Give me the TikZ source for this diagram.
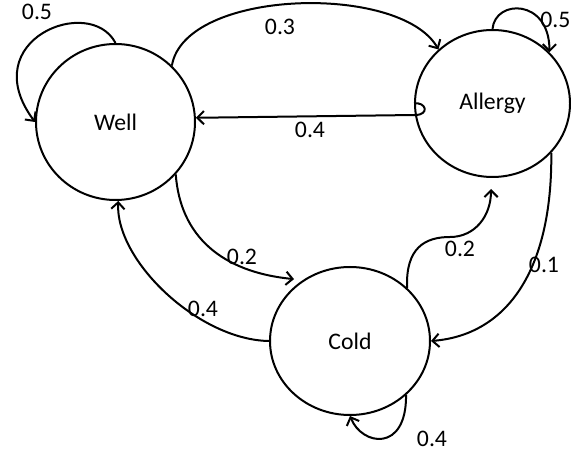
\documentclass[tikz,border=0pt]{standalone}
\usepackage{fontspec}
\setmainfont{Carlito}
\usetikzlibrary{shapes.geometric,arrows.meta}
\begin{document}
\begin{tikzpicture}[x=0.75pt,y=-0.75pt,
  state/.style={ellipse, draw, line width=1.5pt, inner sep=0pt, font=\fontsize{17.8}{20}\selectfont},
  edge/.style={line width=1.5pt, -{Straight Barb[length=5pt,width=10pt]}},
  lbl/.style={font=\fontsize{17.8}{20}\selectfont, inner sep=0pt}]
\useasboundingbox (0,0) rectangle (571,452);
\node[state, minimum width=119.25pt, minimum height=117pt] (well) at (115.5,122) {Well};
\node[state, minimum width=116.25pt, minimum height=110.25pt] (allergy) at (492.5,103.5) {Allergy};
\node[state, minimum width=120pt, minimum height=111pt] (cold) at (350,341) {Cold};
% self loops
\draw[edge] (well.north) .. controls +(-25.5,-49) and +(-61,-82) .. (well.west);
\draw[edge] (allergy.north) .. controls +(2.5,-30) and +(0,-54) .. (allergy.42);
\draw[edge] (cold.-44) .. controls +(0.5,57.6) and +(12,30) .. (cold.south);
% well -> allergy
\draw[edge] (well.45) .. controls +(13,-77) and +(-38,-66.5) .. (allergy.135);
% allergy -> well
\coordinate (hook) at (415,115);
\draw[edge] (allergy.west) .. controls +(12,-2) and +(15,0) .. (hook) -- (well.3);
% well -> cold
\draw[edge] (well.-41) .. controls +(4.5,62) and +(-72,-7) .. ([shift={(-2,-6)}]cold.134);
% cold -> well
\draw[edge] (cold.west) .. controls +(-70,-1) and +(-3,60) .. (well.-88);
% cold -> allergy
\coordinate (bend) at (450,237);
\draw[edge] (cold.43) .. controls +(-1.5,-40) and +(-25,0) .. (bend) .. controls +(25,0) and +(0,27) .. ([shift={(-1.5,11)}]allergy.south);
% allergy -> cold
\draw[edge] (allergy.-40) .. controls +(1,119) and +(75,-6) .. (cold.east);
% labels
\node[lbl] (l1) at (37,12) {0.5};
\node[lbl] (l2) at (280,27) {0.3};
\node[lbl] (l3) at (310,130) {0.4};
\node[lbl] (l4) at (242,257) {0.2};
\node[lbl] (l5) at (203,309) {0.4};
\node[lbl] (l6) at (460,249) {0.2};
\node[lbl] (l7) at (544,265) {0.1};
\node[lbl] (l8) at (432,439) {0.4};
\node[lbl, anchor=west] (l9) at (540,20) {0.5};
\end{tikzpicture}
\end{document}
